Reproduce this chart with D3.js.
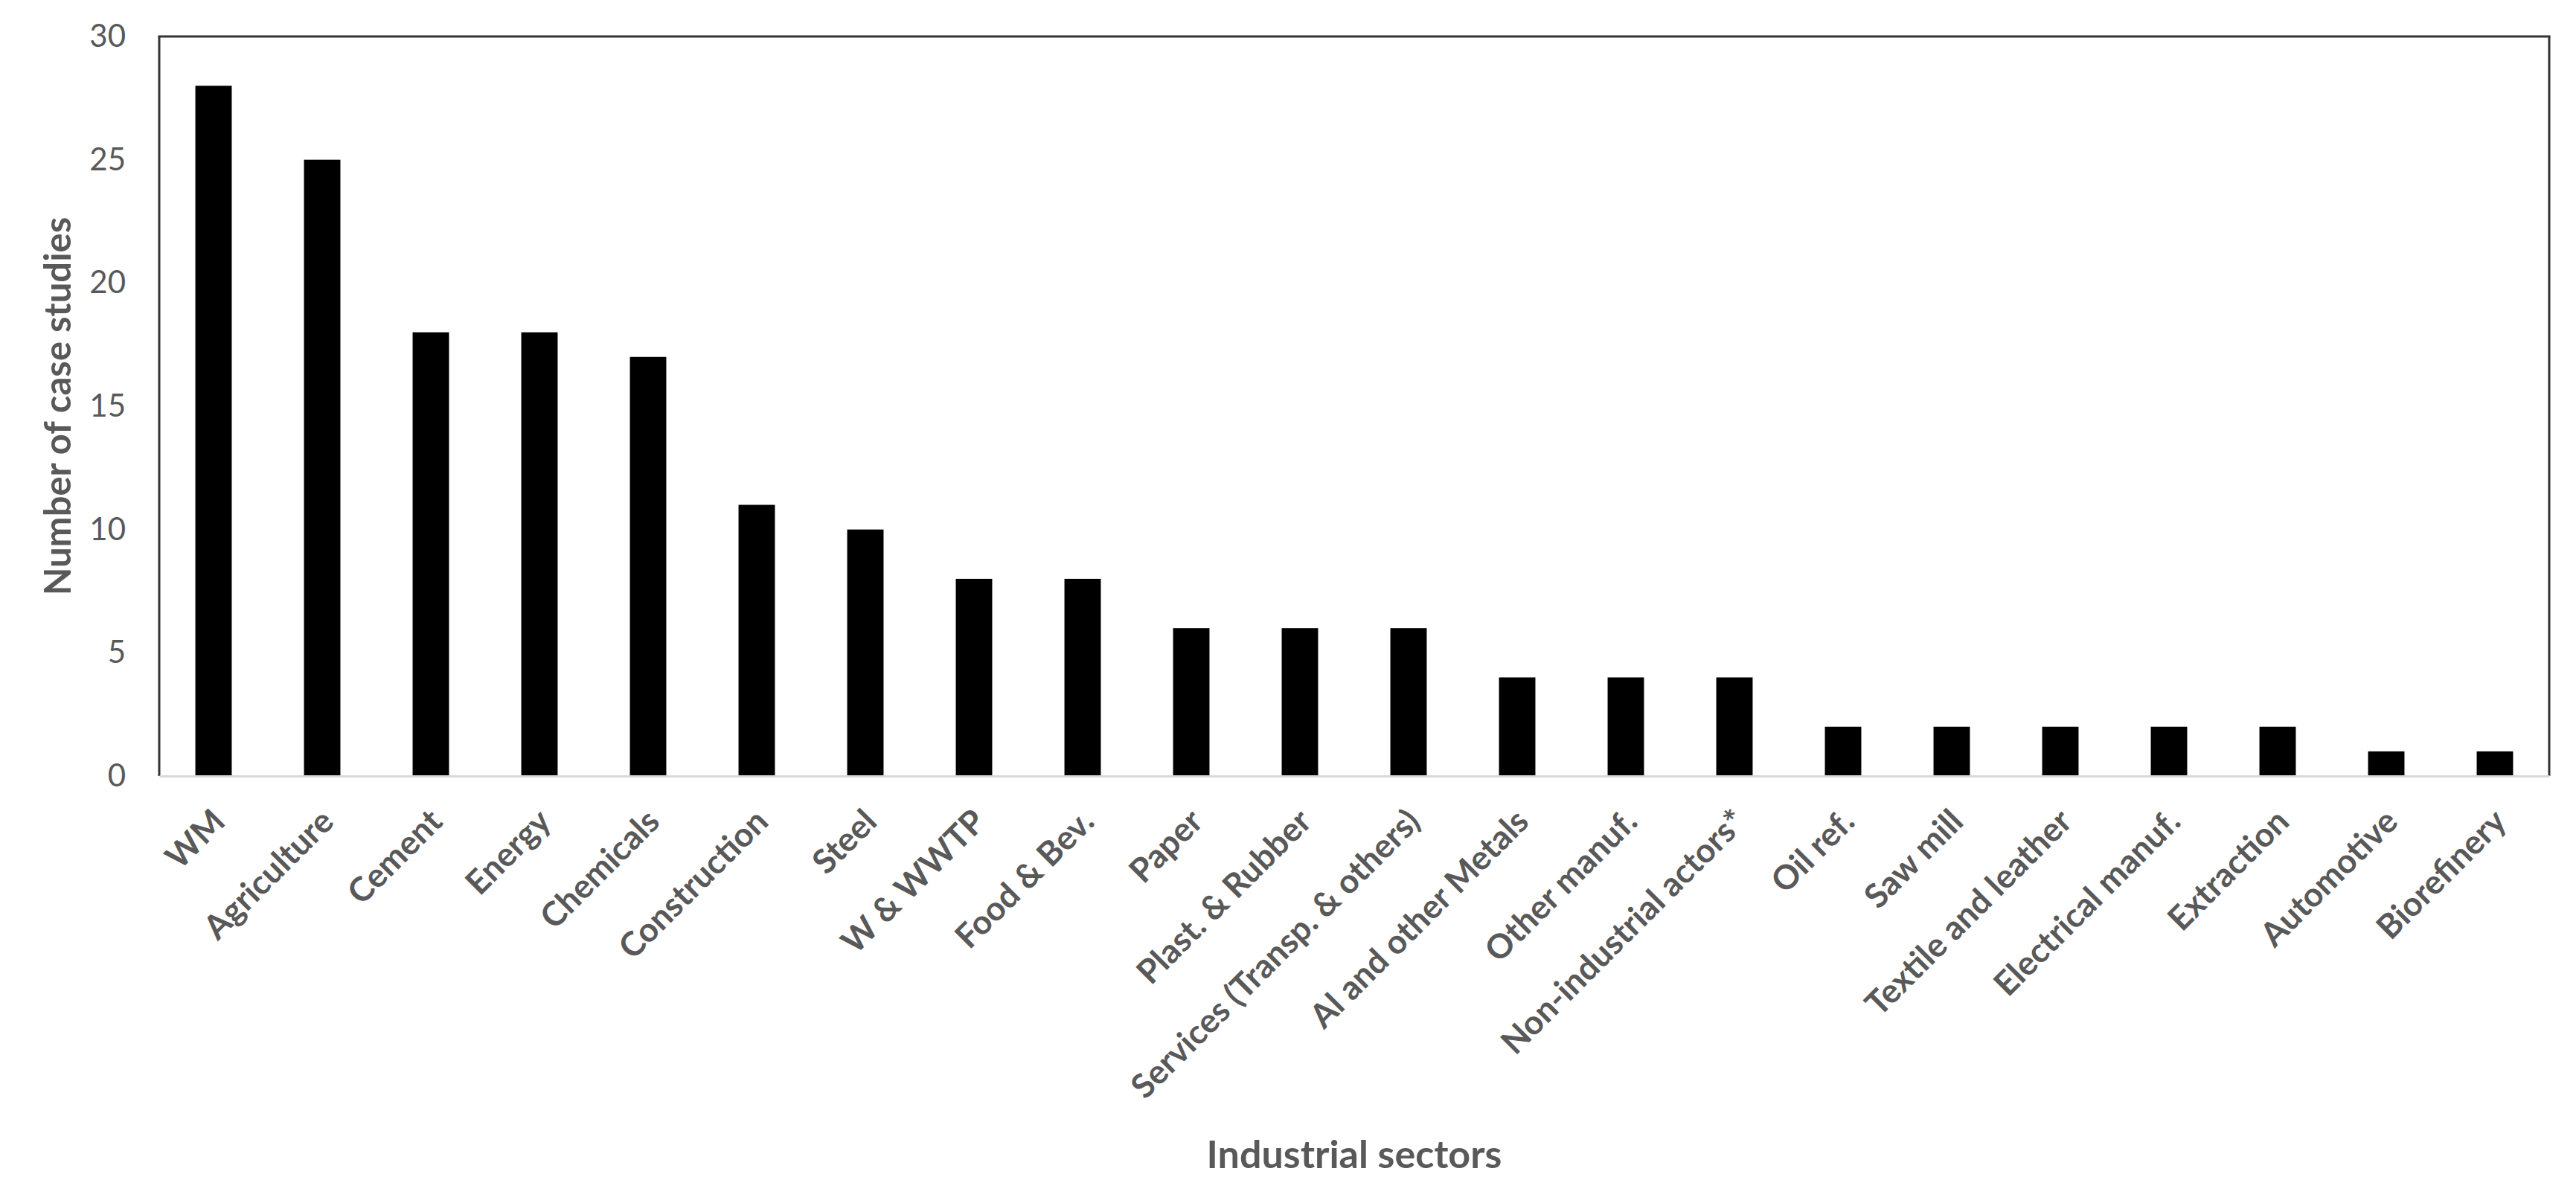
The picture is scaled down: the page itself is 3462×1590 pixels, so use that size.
<!DOCTYPE html>
<html><head><meta charset="utf-8">
<script src="https://cdn.jsdelivr.net/npm/d3@7"></script>
<style>html,body{margin:0;padding:0;background:#fff;}</style>
</head><body>
<svg id="c" width="3462" height="1590"></svg>
<script>
const categories = ["WM","Agriculture","Cement","Energy","Chemicals","Construction","Steel","W & WWTP","Food & Bev.","Paper","Plast. & Rubber","Services (Transp. & others)","Al and other Metals","Other manuf.","Non-industrial actors*","Oil ref.","Saw mill","Textile and leather","Electrical manuf.","Extraction","Automotive","Biorefinery"];
const values = [28,25,18,18,17,11,10,8,8,6,6,6,4,4,4,2,2,2,2,2,1,1];
const yTicks = [0,5,10,15,20,25,30];
const xTitle = "Industrial sectors";
const yTitle = "Number of case studies";

const svg = d3.select("#c");
const m = {left:214, right:3426, top:49, bottom:1043};
const font = "Lato, 'Open Sans', sans-serif";
const tc = "#595959";

const x = d3.scaleBand().domain(categories).range([m.left, m.right]).paddingInner(0.665).paddingOuter(0.3325);
const y = d3.scaleLinear().domain([0,30]).range([m.bottom, m.top]);

// bars
svg.append("g").selectAll("rect").data(values).join("rect")
  .attr("x", (d,i)=>x(categories[i]))
  .attr("y", d=>y(d))
  .attr("width", x.bandwidth())
  .attr("height", d=>y(0)-y(d))
  .attr("fill","#000");

// frame
const fc = "#333";
svg.append("line").attr("x1",m.left-1.5).attr("x2",m.right+1.5).attr("y1",m.top).attr("y2",m.top).attr("stroke",fc).attr("stroke-width",3);
svg.append("line").attr("x1",m.left).attr("x2",m.left).attr("y1",m.top).attr("y2",m.bottom).attr("stroke",fc).attr("stroke-width",3);
svg.append("line").attr("x1",m.right).attr("x2",m.right).attr("y1",m.top).attr("y2",m.bottom).attr("stroke",fc).attr("stroke-width",3);

// x axis
const xa = svg.append("g").attr("transform",`translate(0,${m.bottom})`)
  .call(d3.axisBottom(x).tickSize(0).tickPadding(0));
xa.select(".domain").attr("stroke","#d9d9d9").attr("stroke-width",3);
xa.selectAll("text")
  .attr("font-family",font).attr("font-size",45).attr("font-weight","bold").attr("fill",tc)
  .attr("text-anchor","end").attr("dy",0).attr("y",0)
  .attr("transform","translate(18,64) rotate(-45)");

// y axis
const ya = svg.append("g").attr("transform",`translate(${m.left},0)`)
  .call(d3.axisLeft(y).tickValues(yTicks).tickSize(0).tickPadding(45));
ya.select(".domain").remove();
ya.selectAll("text").attr("font-family",font).attr("font-size",42).attr("fill",tc);

// titles
svg.append("text").attr("x",(m.left+m.right)/2).attr("y",1570).attr("text-anchor","middle")
  .attr("font-family",font).attr("font-size",52).attr("font-weight","bold").attr("fill",tc).text(xTitle);
svg.append("text").attr("transform",`translate(95,${(m.top+m.bottom)/2}) rotate(-90)`).attr("text-anchor","middle")
  .attr("font-family",font).attr("font-size",49).attr("font-weight","bold").attr("fill",tc).text(yTitle);
</script>
</body></html>
